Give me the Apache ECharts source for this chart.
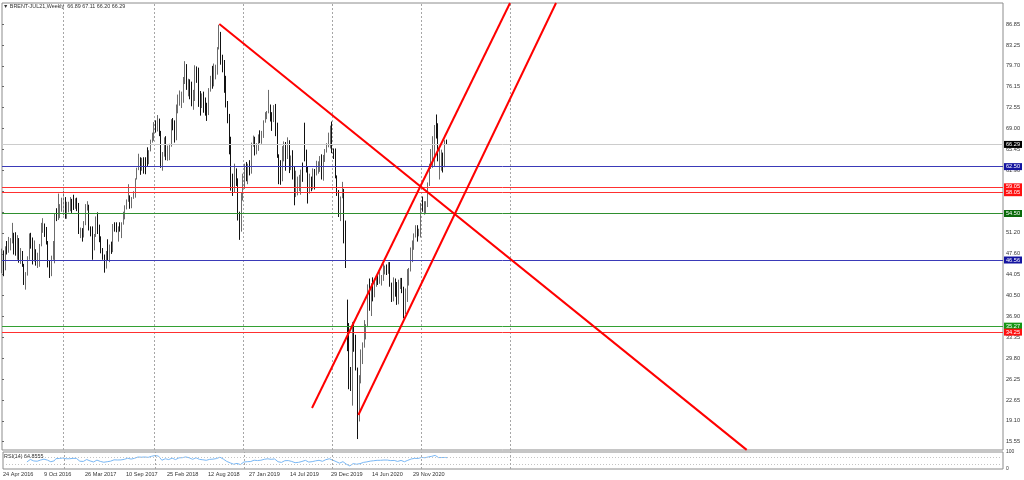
<!DOCTYPE html>
<html>
<head>
<meta charset="utf-8">
<title>BRENT-JUL21 Weekly</title>
<script src="https://cdn.jsdelivr.net/npm/echarts@6/dist/echarts.min.js"></script>
<style>
  html, body { margin: 0; padding: 0; background: #fff; }
  #chart { width: 1024px; height: 480px; }
</style>
</head>
<body>
<div id="chart"></div>
<script>
// weekly bars, bar 0 = week of 24 Apr 2016, last bar = week of 18 Apr 2021
const opens = [
  45.1,48.1,45.4,48.8,48.7,49.3,49.6,50.5,49.2,48.4, 49.7,46.8,47.6,45.7,42.5,44.3,47.0,50.9,49.9,46.8,
  48.0,45.8,45.9,49.1,51.9,52.0,51.8,49.7,45.6,44.8, 46.9,47.2,54.5,54.3,55.2,55.2,
  56.8,57.1,55.5,55.5,55.5,56.8,56.7,55.8,57.0,55.9, 51.4,51.8,50.8,52.8,55.2,55.9,52.0,51.7,49.1,50.8,
  53.6,52.2,50.0,48.2,47.4,45.5,47.9,46.7,48.9,48.1, 52.5,52.4,52.1,52.7,52.4,52.8,53.8,55.6,56.9,57.5,
  55.6,57.2,57.8,60.4,62.1,63.5,62.7,63.9,63.7,63.4, 63.2,65.3,
  66.9,67.6,69.9,68.6,70.5,68.6,62.8,64.8,67.3,64.4, 65.5,66.2,70.5,70.3,67.1,72.6,74.1,74.6,74.9,77.1,
  78.5,76.4,76.8,76.5,73.4,75.6,79.4,77.1,75.3,73.1, 74.3,73.2,72.8,71.8,75.8,77.4,76.8,78.1,78.8,82.7,
  84.2,80.4,79.8,77.6,72.8,70.2,66.8,58.8,58.7,61.7, 60.3,53.8,
  52.2,57.1,60.5,62.7,61.6,62.8,62.1,66.3,67.1,65.1, 65.7,67.2,67.0,68.4,70.3,71.6,72.0,72.2,70.9,70.6,
  72.2,68.7,64.5,63.3,62.0,65.2,66.6,64.2,66.7,62.5, 63.5,61.9,58.5,58.6,59.3,60.4,61.5,66.0,64.3,61.9,
  58.4,60.5,59.4,62.0,61.7,62.5,63.3,63.4,60.5,64.4, 65.2,66.1,
  68.2,68.6,65.0,64.9,60.7,58.2,54.5,57.3,58.5,50.5, 39.0,33.9,27.0,24.9,34.1,31.5,28.1,21.4,26.4,31.0,
  32.5,35.1,35.3,42.3,38.7,42.2,41.0,42.8,43.2,43.1, 43.3,43.3,44.4,44.8,44.4,45.8,42.7,39.8,43.2,41.9,
  39.3,42.9,42.9,41.8,37.9,39.5,42.8,45.0,48.2,49.3, 51.0,52.3,51.3,51.8,56.0,55.1,55.4,55.9,59.3,62.4,
  62.9,66.1,69.4,69.2,64.5,64.6,64.9,63.0,66.89
];
const highs = [
  48.5,48.2,48.9,49.8,50.5,50.3,52.9,51.2,51.3,50.8, 50.3,48.6,48.1,45.9,44.5,47.2,51.1,51.2,50.4,49.9,
  48.4,47.8,49.3,52.9,53.7,52.8,52.2,49.8,46.5,47.3, 49.8,54.5,55.4,57.9,56.1,57.2,
  58.4,57.3,56.5,56.5,57.3,57.0,57.7,57.1,57.2,56.3, 52.1,52.0,53.2,56.1,56.6,56.0,52.3,52.3,51.0,54.0,
  54.7,52.6,50.6,48.6,47.5,48.1,50.1,49.2,49.7,52.7, 53.0,53.0,52.3,53.0,53.0,54.8,55.9,56.9,59.5,57.6,
  57.3,58.3,60.5,62.3,64.7,64.1,64.0,64.1,64.1,65.8, 65.3,67.1,
  68.3,70.1,70.4,71.3,70.7,68.6,65.0,67.5,67.7,66.1, 66.4,70.6,70.8,70.4,73.1,74.8,75.5,75.3,77.8,80.5,
  80.0,77.5,77.4,77.0,75.6,79.8,79.6,79.4,75.4,75.0, 75.3,74.3,73.4,75.9,78.0,79.7,80.1,79.9,82.9,86.7,
  85.5,81.6,80.7,78.0,73.7,71.5,67.6,61.3,63.0,62.2, 60.5,54.8,
  58.1,61.3,63.0,63.3,63.0,63.6,66.6,67.8,67.6,66.5, 68.0,68.7,68.6,70.4,71.8,72.0,75.6,73.1,71.8,73.0,
  73.2,70.0,64.6,63.6,66.0,66.8,66.7,67.5,67.0,64.4, 65.3,62.5,61.8,60.8,61.1,62.0,63.2,70.0,65.4,62.6,
  61.3,60.8,62.2,62.1,63.5,63.4,64.3,64.6,64.5,65.5, 66.5,68.3,
  69.5,70.2,65.6,65.6,61.0,58.5,57.4,59.9,58.7,53.3, 39.8,35.8,28.3,36.0,36.0,33.8,28.2,26.9,31.3,32.5,
  36.3,35.6,42.4,43.4,42.6,43.6,43.4,43.5,44.0,44.6, 44.0,45.9,45.6,45.8,46.2,46.2,42.7,43.6,43.4,42.8,
  43.2,43.5,43.5,42.0,41.7,45.0,45.2,48.7,49.9,51.1, 52.5,52.5,51.9,56.3,57.4,56.6,56.6,59.8,63.0,65.5,
  67.7,69.6,71.4,69.9,65.5,65.4,64.9,67.0,67.11
];
const lows = [
  44.3,43.8,44.8,47.5,47.8,48.2,49.4,47.5,47.3,46.6, 46.1,45.9,45.4,42.3,41.5,43.9,46.6,48.5,45.8,46.3,
  45.6,45.2,45.4,48.9,51.2,50.5,49.2,45.3,43.5,43.8, 46.6,46.0,53.2,53.4,53.7,54.8,
  54.2,53.6,53.6,54.7,54.9,54.6,55.1,55.3,54.9,51.0, 50.3,49.7,50.4,52.5,55.0,51.6,50.6,46.6,48.2,50.5,
  51.0,49.6,47.7,46.6,44.4,45.1,46.5,46.2,47.6,47.9, 51.4,51.3,49.7,51.4,50.3,52.6,53.5,55.2,56.5,55.3,
  55.4,57.0,57.2,60.3,61.9,61.1,61.8,61.3,61.2,62.6, 62.9,65.1,
  66.6,66.9,68.3,68.5,67.7,62.3,61.8,64.2,63.6,63.5, 63.6,65.9,68.7,66.6,67.0,71.6,72.9,72.5,73.4,76.6,
  75.6,74.5,74.0,72.8,72.2,73.7,76.8,72.7,71.2,72.5, 71.7,71.2,70.3,71.3,75.3,75.8,76.2,77.4,78.2,82.5,
  79.9,78.6,75.1,72.6,69.9,64.6,58.4,57.5,58.1,59.2, 53.3,50.0,
  51.4,56.7,58.7,60.0,59.5,61.0,61.3,65.9,64.4,64.6, 65.2,66.5,66.4,67.4,70.0,70.6,71.6,70.2,68.6,70.1,
  67.7,64.0,59.5,59.4,60.0,63.4,61.8,63.8,61.4,61.9, 60.3,55.9,57.3,57.6,58.3,57.7,59.9,63.4,61.5,56.2,
  57.9,58.3,58.6,58.6,61.0,61.3,61.6,60.3,60.1,63.3, 64.9,65.8,
  65.6,64.8,63.8,60.5,57.5,53.9,53.2,57.1,49.4,45.2, 31.0,24.5,24.2,21.7,30.9,27.7,16.0,19.0,25.5,28.8,
  31.6,33.0,35.1,37.9,37.0,39.5,40.2,42.0,42.3,42.5, 42.2,43.0,44.1,44.0,44.2,42.0,39.4,39.5,40.3,38.9,
  39.0,41.6,40.9,36.6,37.3,39.4,42.2,44.6,46.2,48.3, 50.4,49.7,50.6,50.4,54.8,54.3,54.4,55.6,59.2,62.1,
  62.3,62.6,67.3,63.4,60.3,61.8,61.5,62.4,66.20
];
const closes = [
  48.1,45.4,48.8,48.7,49.3,49.6,50.5,49.2,48.4,49.7, 46.8,47.6,45.7,42.5,44.3,47.0,50.9,49.9,46.8,48.0,
  45.8,45.9,49.1,51.9,52.0,51.8,49.7,45.6,44.8,46.9, 47.2,54.5,54.3,55.2,55.2,56.8,
  57.1,55.5,55.5,55.5,56.8,56.7,55.8,57.0,55.9,51.4, 51.8,50.8,52.8,55.2,55.9,52.0,51.7,49.1,50.8,53.6,
  52.2,50.0,48.2,47.4,45.5,47.9,46.7,48.9,48.1,52.5, 52.4,52.1,52.7,52.4,52.8,53.8,55.6,56.9,57.5,55.6,
  57.2,57.8,60.4,62.1,63.5,62.7,63.9,63.7,63.4,63.2, 65.3,66.9,
  67.6,69.9,68.6,70.5,68.6,62.8,64.8,67.3,64.4,65.5, 66.2,70.5,70.3,67.1,72.6,74.1,74.6,74.9,77.1,78.5,
  76.4,76.8,76.5,73.4,75.6,79.4,77.1,75.3,73.1,74.3, 73.2,72.8,71.8,75.8,77.4,76.8,78.1,78.8,82.7,84.2,
  80.4,79.8,77.6,72.8,70.2,66.8,58.8,58.7,61.7,60.3, 53.8,52.2,
  57.1,60.5,62.7,61.6,62.8,62.1,66.3,67.1,65.1,65.7, 67.2,67.0,68.4,70.3,71.6,72.0,72.2,70.9,70.6,72.2,
  68.7,64.5,63.3,62.0,65.2,66.6,64.2,66.7,62.5,63.5, 61.9,58.5,58.6,59.3,60.4,61.5,60.2,64.3,61.9,58.4,
  60.5,59.4,62.0,61.7,62.5,63.3,63.4,60.5,64.4,65.2, 66.1,68.2,
  68.6,65.0,64.9,60.7,58.2,54.5,57.3,58.5,50.5,45.3, 33.9,27.0,24.9,34.1,31.5,28.1,21.4,26.4,31.0,32.5,
  35.1,35.3,42.3,38.7,42.2,41.0,42.8,43.2,43.1,43.3, 43.3,44.4,44.8,44.4,45.8,42.7,39.8,43.2,41.9,39.3,
  42.9,42.9,41.8,37.9,39.5,42.8,45.0,48.2,49.3,51.0, 52.3,51.3,51.8,56.0,55.1,55.4,55.9,59.3,62.4,62.9,
  66.1,69.4,69.2,64.5,64.6,64.9,63.0,66.8,66.29
];

// time axis labels (every 24 bars) and first bar of each new year (dotted grid)
const xTickBars = [0, 24, 48, 72, 96, 120, 144, 168, 192, 216, 240];
const xTickLabels = ['24 Apr 2016', '9 Oct 2016', '26 Mar 2017', '10 Sep 2017', '25 Feb 2018', '12 Aug 2018',
  '27 Jan 2019', '14 Jul 2019', '29 Dec 2019', '14 Jun 2020', '29 Nov 2020'];
const yearBars = [36, 89, 141, 193, 245, 297];

// price scale labels
const yTicks = [86.85, 83.25, 79.70, 76.15, 72.55, 69.00, 65.45, 61.90, 58.35, 54.75, 51.20,
  47.60, 44.05, 40.50, 36.90, 33.35, 29.80, 26.25, 22.65, 19.10, 15.55];

// horizontal levels
const levelValues = [62.50, 59.05, 58.05, 54.50, 46.56, 35.27, 34.25];
const levelLineColors = ['#3a3ab8', '#ff3030', '#ff3030', '#2f8f2f', '#3a3ab8', '#33a033', '#ff3030'];
const levelBoxColors = ['#1414a0', '#ff1010', '#ff1010', '#0b6b0b', '#1414a0', '#149614', '#ff1010'];
const lastPrice = 66.29;

// trend lines, [bar, price]
const downTrend = [[127.1, 86.85], [435.5, 14.15]];
const channelUpper = [[181.3, 21.30], [297.1, 90.43]];
const channelLower = [[208.4, 20.10], [324.0, 90.43]];

const FONT = 'Liberation Sans';
const xMax = 585.4;
const yMin = 14.13, yMax = 90.43;

// RSI(14), Wilder smoothing of the closes above
const rsiPeriod = 14;
function calcRsi(src, n) {
  const out = [];
  let g = 0, l = 0;
  for (let i = 1; i < src.length; i++) {
    const d = src[i] - src[i - 1];
    const up = Math.max(d, 0), dn = Math.max(-d, 0);
    if (i <= n) {
      g += up / n; l += dn / n;
      if (i === n) out.push([i, l === 0 ? 100 : 100 - 100 / (1 + g / l)]);
    } else {
      g = (g * (n - 1) + up) / n;
      l = (l * (n - 1) + dn) / n;
      out.push([i, l === 0 ? 100 : 100 - 100 / (1 + g / l)]);
    }
  }
  return out;
}

const candles = closes.map((c, i) => [i, opens[i], c, lows[i], highs[i]]);

const yearLines = yearBars.map(b => ({ xAxis: b }));
const dotted = { color: '#a6a6a6', width: 1, type: [2, 2] };

const levelMarks = levelValues.map((v, i) => ({
  yAxis: v,
  lineStyle: { color: levelLineColors[i], width: 1, type: 'solid' },
  label: { backgroundColor: levelBoxColors[i] }
}));
levelMarks.unshift({
  yAxis: lastPrice,
  lineStyle: { color: '#cccccc', width: 1, type: 'solid' },
  label: { backgroundColor: '#000' }
});

const trendSeries = (data) => ({
  type: 'line', xAxisIndex: 0, yAxisIndex: 0, data: data,
  symbol: 'none', silent: true, z: 5, clip: true,
  lineStyle: { color: '#ff0000', width: 2 }
});

const chart = echarts.init(document.getElementById('chart'));

const option = {
  animation: false,
  backgroundColor: '#fff',
  textStyle: { fontFamily: FONT },
  grid: [
    { left: 2, right: 21, top: 3, height: 447, show: true, borderColor: '#8c8c8c', borderWidth: 1 },
    { left: 2, right: 21, top: 452, height: 17, show: true, borderColor: '#8c8c8c', borderWidth: 1 }
  ],
  xAxis: [
    { type: 'value', gridIndex: 0, min: 0, max: xMax, show: false },
    {
      type: 'value', gridIndex: 1, min: 0, max: xMax,
      axisLine: { show: false }, axisTick: { show: false }, splitLine: { show: false },
      axisLabel: {
        customValues: xTickBars,
        formatter: v => xTickLabels[xTickBars.indexOf(v)] || '',
        align: 'left', fontSize: 5.6, color: '#333', margin: 2, showMinLabel: true
      }
    }
  ],
  yAxis: [
    {
      type: 'value', gridIndex: 0, position: 'right', min: yMin, max: yMax,
      axisLine: { show: false },
      axisTick: { show: true, customValues: yTicks, length: 2, lineStyle: { color: '#666' } },
      axisLabel: { customValues: yTicks, formatter: v => v.toFixed(2), fontSize: 5.6, color: '#333', margin: 3 },
      splitLine: { show: false }
    },
    {
      type: 'value', gridIndex: 1, position: 'right', min: 0, max: 100,
      axisLine: { show: false },
      axisTick: { show: false },
      axisLabel: { customValues: [100, 0], fontSize: 5, color: '#333', margin: 3 },
      splitLine: { show: false }
    }
  ],
  graphic: [
    { type: 'text', left: 3, top: 4, z: 10,
      style: { text: '\u25BC BRENT-JUL21,Weekly  66.89 67.11 66.20 66.29', fontSize: 5.4, fill: '#333', fontFamily: FONT } },
    { type: 'text', left: 4, top: 454, z: 10,
      style: { text: 'RSI(14) 64.8555', fontSize: 5.4, fill: '#333', fontFamily: FONT } }
  ],
  series: [
    {
      type: 'line', xAxisIndex: 0, yAxisIndex: 0, data: [], z: 1, silent: true,
      markLine: { symbol: ['none', 'none'], silent: true, label: { show: false }, lineStyle: dotted, data: yearLines }
    },
    {
      type: 'candlestick', xAxisIndex: 0, yAxisIndex: 0, data: candles, z: 3,
      barWidth: 1,
      itemStyle: { color: '#a8a8a8', color0: '#111', borderColor: '#6c6c6c', borderColor0: '#111', borderWidth: 1 },
      markLine: {
        symbol: ['none', 'none'], silent: true,
        label: {
          show: true, position: 'end', distance: 1, color: '#fff', fontSize: 5.6, padding: [1, 2, 0, 2],
          formatter: p => Number(p.value).toFixed(2)
        },
        data: levelMarks
      }
    },
    trendSeries(downTrend),
    trendSeries(channelUpper),
    trendSeries(channelLower),
    {
      type: 'line', xAxisIndex: 1, yAxisIndex: 1, data: calcRsi(closes, rsiPeriod),
      symbol: 'none', silent: true, z: 3,
      lineStyle: { color: '#7ab8f5', width: 1 },
      markLine: {
        symbol: ['none', 'none'], silent: true, label: { show: false },
        data: [
          { yAxis: 70, lineStyle: { color: '#c4c4c4', width: 1, type: [1, 2] } },
          { yAxis: 30, lineStyle: { color: '#c4c4c4', width: 1, type: [1, 2] } }
        ].concat(yearBars.map(b => ({ xAxis: b, lineStyle: dotted })))
      }
    }
  ]
};

chart.setOption(option);
</script>
</body>
</html>
